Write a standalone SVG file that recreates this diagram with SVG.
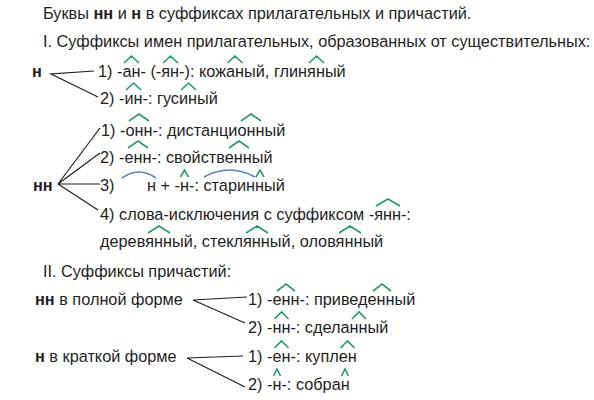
<svg xmlns="http://www.w3.org/2000/svg" width="594" height="400" viewBox="0 0 594 400">
<style>
text{font-family:"Liberation Sans",Arial,sans-serif;font-size:16.3px;fill:#1e1e1e}
.b{font-weight:bold}
.con{stroke:#1e1e1e;stroke-width:1.2;fill:none}
.m{stroke:#1f9d63;stroke-width:1.6;fill:none;stroke-linejoin:miter}
.r{stroke:#4a86c8;stroke-width:1.6;fill:none}
</style>
<rect width="594" height="400" fill="#fff"/>
<g id="title"><text x="43" y="19">Буквы <tspan class="b">нн</tspan> и <tspan class="b">н</tspan> в суффиксах прилагательных и причастий.</text></g>
<g id="sec1"><text x="43" y="47">I. Суффиксы имен прилагательных, образованных от существительных:</text></g>
<g id="n1"><text class="b" x="32" y="77">н</text></g>
<g id="n1-1"><text x="98" y="77">1) -ан- (-ян-): кожаный, глиняный</text></g>
<g id="n1-2"><text x="100" y="104">2) -ин-: гусиный</text></g>
<g id="nn1"><text class="b" x="33" y="191">нн</text></g>
<g id="nn1-1"><text x="101" y="136">1) -онн-: дистанционный</text></g>
<g id="nn1-2"><text x="100" y="163">2) -енн-: свойственный</text></g>
<g id="nn1-3"><text x="100" y="191">3)</text><text x="147" y="191">н + -н-: старинный</text></g>
<g id="nn1-4"><text x="100" y="220">4) слова-исключения с суффиксом -янн-:</text><text x="100" y="247">деревянный, стеклянный, оловянный</text></g>
<g id="sec2"><text x="43" y="277">II. Суффиксы причастий:</text></g>
<g id="full"><text x="35" y="305"><tspan class="b">нн</tspan> в полной форме</text></g>
<g id="full-1"><text x="248" y="305">1) -енн-: приведенный</text></g>
<g id="full-2"><text x="248" y="333">2) -нн-: сделанный</text></g>
<g id="short"><text x="35" y="362"><tspan class="b">н</tspan> в краткой форме</text></g>
<g id="short-1"><text x="248" y="362">1) -ен-: куплен</text></g>
<g id="short-2"><text x="248" y="390">2) -н-: собран</text></g>
<g id="connectors">
<path class="con" d="M94,71 L51,74 L98,97"/>
<path class="con" d="M100,128 L58,184 L100,153 M58,184 L100,184 M58,184 L98,210"/>
<path class="con" d="M247,297 L193,300 L245,323"/>
<path class="con" d="M243,356 L187,358 L245,387"/>
</g>
<g id="marks">
<path class="m" d="M124,63 L131.5,56 L139,63 M163,63 L170.5,56 L178,63 M227.5,63 L235,56 L242.5,63 M309,63 L316.5,56 L324,63"/>
<path class="m" d="M126,90 L133.5,83 L141,90 M181,90 L188.5,83 L196,90"/>
<path class="m" d="M129,121 L139,114 L149,121 M241,121 L251,114 L261,121"/>
<path class="m" d="M128,148 L138,141 L148,148 M229,148 L239,141 L249,148"/>
<path class="m" d="M180.5,177 L184.5,170 L188.5,177 M256,177 L260,170 L264,177"/>
<path class="r" d="M122,178 Q139,166 156,178 M204,177 Q229.5,163 255,177"/>
<path class="m" d="M376,206 L388,199 L400,206"/>
<path class="m" d="M148,233 L159,226 L170,233 M246,233 L257,226 L268,233 M339,233 L350,226 L361,233"/>
<path class="m" d="M277,291 L286,284 L295,291 M373,291 L382,284 L391,291"/>
<path class="m" d="M274.5,319 L281.5,312 L288.5,319 M352,319 L359,312 L366,319"/>
<path class="m" d="M274.5,348 L281.5,341 L288.5,348 M340.5,348 L347.5,341 L354.5,348"/>
<path class="m" d="M273.5,376 L277,369 L280.5,376 M341.5,376 L345,369 L348.5,376"/>
</g>
</svg>
